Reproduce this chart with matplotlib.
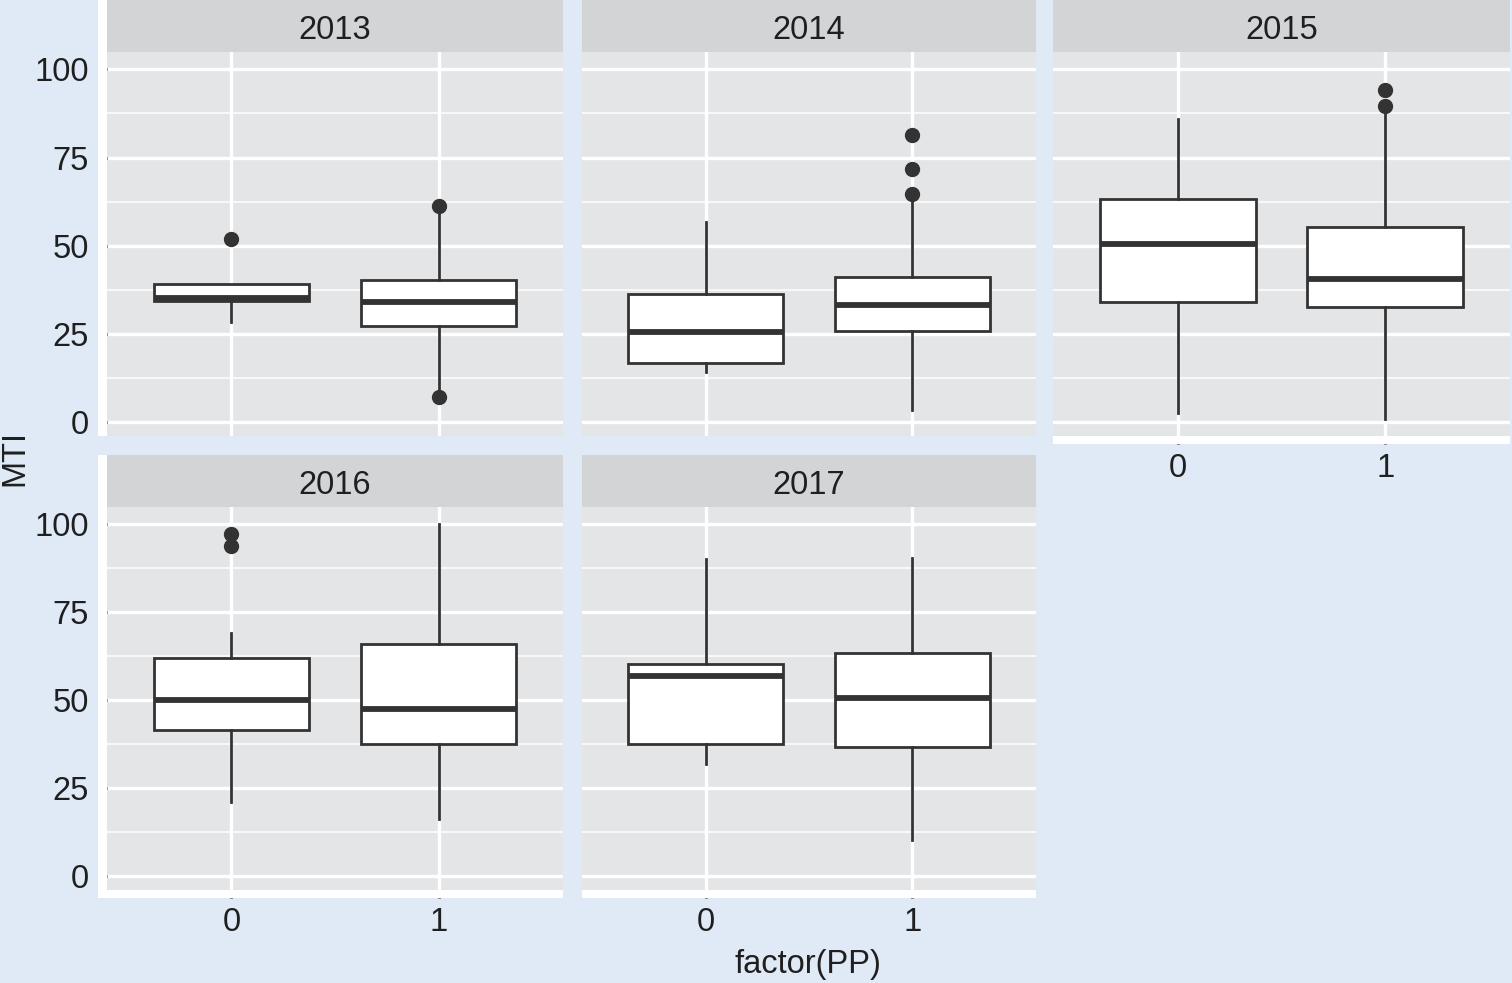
import numpy as np
import matplotlib
matplotlib.use("Agg")
import matplotlib.pyplot as plt
from matplotlib.patches import Rectangle

plt.rcParams['font.family'] = ['Liberation Sans', 'DejaVu Sans']

# ---- data (MTI by factor(PP), faceted by year) ----
years = ['2013', '2014', '2015', '2016', '2017']
groups = ['0', '1']

whislo = {'2013': [28.2, 7.8], '2014': [14.0, 3.3], '2015': [2.4, 0.9],
          '2016': [20.9, 16.2], '2017': [31.8, 10.2]}
q1 = {'2013': [34.2, 27.2], '2014': [16.6, 25.8], '2015': [34.0, 32.7],
      '2016': [41.5, 37.4], '2017': [37.6, 36.7]}
med = {'2013': [35.0, 34.1], '2014': [25.6, 33.2], '2015': [50.4, 40.4],
       '2016': [49.9, 47.6], '2017': [56.8, 50.6]}
q3 = {'2013': [39.0, 40.3], '2014': [36.2, 41.2], '2015': [63.1, 55.2],
      '2016': [62.1, 65.9], '2017': [60.3, 63.5]}
whishi = {'2013': [39.0, 60.3], '2014': [56.7, 64.0], '2015': [85.8, 89.0],
          '2016': [69.1, 100.0], '2017': [90.2, 90.5]}
fliers = {'2013': [[52.0], [61.1, 7.1]], '2014': [[], [64.6, 71.6, 81.5]],
          '2015': [[], [89.6, 94.1]], '2016': [[93.8, 97.3], []],
          '2017': [[], []]}

# ---- styling ----
W, H = 1512, 983
bg = '#dfeaf6'
panel_bg = '#e4e5e7'
strip_bg = '#d3d4d6'
dark = '#333333'
txt = '#1f1f1f'
fs = 23.5

# panel boxes in pixels: x0, x1, strip top, panel top, panel bottom
layout = {
    '2013': (107, 563, 0, 52, 436),
    '2014': (582, 1036, 0, 52, 436),
    '2015': (1053, 1510, 0, 52, 436),
    '2016': (107, 563, 455, 507, 890),
    '2017': (582, 1036, 455, 507, 890),
}
has_y = {'2013', '2016'}
has_x = {'2015', '2016', '2017'}

# shared y range with ggplot-style 5% expansion
all_vals = []
for y in years:
    all_vals += whislo[y] + whishi[y]
    for f in fliers[y]:
        all_vals += f
lo, hi = min(all_vals), max(all_vals)
pad = 0.05 * (hi - lo)
ylim = (lo - pad, hi + pad)

fig = plt.figure(figsize=(W / 100, H / 100), dpi=100, facecolor=bg)


def frac(x0, x1, y0, y1):
    return [x0 / W, 1 - y1 / H, (x1 - x0) / W, (y1 - y0) / H]


for y in years:
    x0, x1, s0, p0, p1 = layout[y]

    # white backing where ticks sit
    if y in has_y:
        r = frac(98, x0, s0, p1 + (8 if y in has_x else 0))
        fig.patches.append(Rectangle((r[0], r[1]), r[2], r[3], transform=fig.transFigure,
                                     facecolor='white', edgecolor='none', zorder=0))
    if y in has_x:
        r = frac(x0 - (9 if y in has_y else 0), x1, p1, p1 + 8)
        fig.patches.append(Rectangle((r[0], r[1]), r[2], r[3], transform=fig.transFigure,
                                     facecolor='white', edgecolor='none', zorder=0))

    # strip
    sax = fig.add_axes(frac(x0, x1, s0, p0))
    sax.set_facecolor(strip_bg)
    sax.set_xticks([])
    sax.set_yticks([])
    for sp in sax.spines.values():
        sp.set_visible(False)
    sax.text(0.5, 0.42, y, ha='center', va='center', fontsize=fs, color=txt,
             transform=sax.transAxes)

    # panel
    ax = fig.add_axes(frac(x0, x1, p0, p1))
    ax.set_facecolor(panel_bg)
    for sp in ax.spines.values():
        sp.set_visible(False)

    stats = []
    for i, g in enumerate(groups):
        stats.append(dict(label=g, whislo=whislo[y][i], q1=q1[y][i], med=med[y][i],
                          q3=q3[y][i], whishi=whishi[y][i], fliers=fliers[y][i]))
    ax.bxp(stats, positions=[1, 2], widths=0.75, showcaps=False, patch_artist=True,
           boxprops=dict(facecolor='white', edgecolor=dark, linewidth=2.0),
           medianprops=dict(color=dark, linewidth=4.2, solid_capstyle='butt'),
           whiskerprops=dict(color=dark, linewidth=2.0),
           flierprops=dict(marker='o', markersize=10, markerfacecolor=dark,
                           markeredgecolor=dark))

    ax.set_xlim(0.4, 2.6)
    ax.set_ylim(*ylim)
    ax.set_yticks([0, 25, 50, 75, 100])
    ax.set_yticks([12.5, 37.5, 62.5, 87.5], minor=True)
    ax.set_xticks([1, 2])
    ax.set_xticks([], minor=True)
    ax.set_axisbelow(True)
    ax.grid(which='major', color='white', linewidth=2.4)
    ax.grid(which='minor', axis='y', color='white', linewidth=1.1)

    ax.tick_params(which='minor', length=0)
    ax.tick_params(axis='y', which='major', length=6, width=2.2, color=dark,
                   pad=7, labelsize=fs, labelcolor=txt, left=y in has_y,
                   labelleft=y in has_y)
    ax.tick_params(axis='x', which='major', length=6, width=2.2, color=dark,
                   pad=6, labelsize=fs, labelcolor=txt, bottom=y in has_x,
                   labelbottom=y in has_x)
    ax.set_xticklabels(groups)

fig.text(15 / W, 1 - 458 / H, 'MTI', rotation=90, ha='center', va='center',
         fontsize=fs, color=txt)
fig.text(808 / W, 1 - 964 / H, 'factor(PP)', ha='center', va='center',
         fontsize=fs, color=txt)

fig.savefig('out.png', dpi=100, facecolor=bg)
